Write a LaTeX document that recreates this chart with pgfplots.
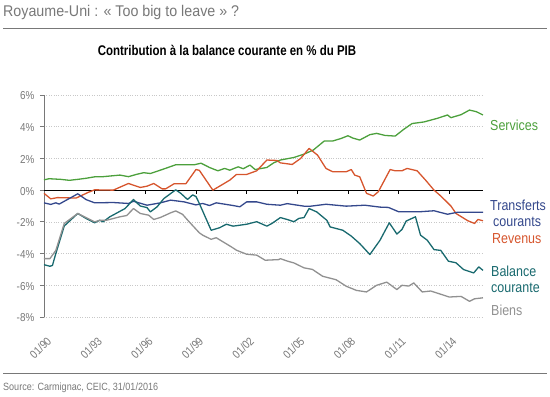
\documentclass[border=0pt]{standalone}
\usepackage{fontspec}
\setmainfont{Liberation Sans}
\newfontfamily\cond[FakeStretch=0.86]{Liberation Sans}
\newfontfamily\condt[FakeStretch=0.92]{Liberation Sans}
\newfontfamily\condb[FakeStretch=0.82]{Liberation Sans Bold}
\usepackage{pgfplots}
\pgfplotsset{compat=1.18}
\definecolor{cserv}{RGB}{76,160,60}
\definecolor{crev}{RGB}{214,85,45}
\definecolor{ctrans}{RGB}{52,72,140}
\definecolor{cbal}{RGB}{24,105,110}
\definecolor{cbien}{RGB}{145,145,145}
\definecolor{ctxt}{RGB}{120,120,120}
\definecolor{cgrid}{RGB}{200,200,200}
\begin{document}
\begin{tikzpicture}
\useasboundingbox (0bp,0bp) rectangle (550bp,-397bp);
\node[anchor=base west,inner sep=0,text=ctxt,font=\condt\fontsize{15.5bp}{17bp}\selectfont] at (3bp,-16bp) {Royaume-Uni : « Too big to leave » ?};
\draw[ctxt,line width=0.8bp] (3bp,-28bp) -- (547bp,-28bp);
\node[anchor=base,inner sep=0,font=\condb\fontsize{14bp}{16bp}\selectfont] at (227bp,-55bp) {Contribution à la balance courante en \% du PIB};
\draw[ctxt,line width=0.8bp] (3bp,-373bp) -- (547bp,-373bp);
\node[anchor=base west,inner sep=0,text=ctxt,font=\cond\fontsize{10.5bp}{12bp}\selectfont] at (3bp,-390bp) {Source: Carmignac, CEIC, 31/01/2016};
\begin{axis}[
  at={(44bp,-317bp)}, anchor=south west,
  scale only axis, width=439bp, height=222bp,
  xmin=1990, xmax=2016, ymin=-8, ymax=6,
  axis y line*=left, axis x line*=bottom,
  axis line style={-},
  x axis line style={draw=none},
  y axis line style={draw=ctxt,line width=0.8bp},
  xtick={1990,1993,1996,1999,2002,2005,2008,2011,2014},
  xticklabels={01/90,01/93,01/96,01/99,01/02,01/05,01/08,01/11,01/14},
  ytick={-8,-6,-4,-2,0,2,4,6},
  yticklabels={-8\%,-6\%,-4\%,-2\%,0\%,2\%,4\%,6\%},
  xtick style={draw=none},
  ytick style={draw=ctxt,line width=0.8bp},
  tick align=outside, major tick length=4bp,
  ymajorgrids, grid style={cgrid,dotted,line width=0.6bp},
  tick label style={text=ctxt,font=\cond\fontsize{11.5bp}{12bp}\selectfont},
  xticklabel style={rotate=45,anchor=center,inner sep=0bp,xshift=-21.6bp,yshift=-16.6bp},
  yticklabel style={inner sep=2bp,xshift=-3.5bp,yshift=-1bp},
  /pgf/number format/assume math mode=true,
  every axis plot/.append style={line width=1.3bp,line join=round},
  clip=false,
]
\draw[black,line width=0.9bp] (axis cs:1990,0) -- (axis cs:2016,0);
\pgfplotsinvokeforeach{1993,1996,1999,2002,2005,2008,2011,2014}{
  \draw[black,line width=0.8bp] (axis cs:#1,0) -- (axis cs:#1,-0.25);
}
\addplot[cserv] coordinates {
(1990.0,0.65)(1990.3,0.72)(1991.0,0.68)(1991.5,0.62)(1992.0,0.68)(1992.5,0.75)
(1993.0,0.84)(1993.5,0.85)(1994.0,0.9)(1994.5,0.95)(1995.0,0.85)(1995.5,1.0)
(1995.9,1.1)(1996.3,1.05)(1997.0,1.3)(1997.8,1.6)(1998.9,1.6)(1999.3,1.7)
(1999.8,1.43)(2000.3,1.22)(2000.7,1.37)(2001.0,1.26)(2001.5,1.47)(2001.8,1.35)
(2002.2,1.58)(2002.5,1.3)(2003.2,1.43)(2003.6,1.72)(2004.0,1.9)(2004.8,2.06)
(2005.4,2.27)(2005.95,2.53)(2006.6,3.1)(2007.1,3.1)(2007.6,3.26)(2008.0,3.43)
(2008.3,3.28)(2008.7,3.16)(2009.3,3.5)(2009.7,3.58)(2010.2,3.45)(2010.8,3.41)
(2011.3,3.83)(2011.8,4.2)(2012.5,4.3)(2013.3,4.53)(2013.9,4.74)(2014.1,4.57)
(2014.7,4.76)(2015.2,5.05)(2015.6,4.95)(2016.0,4.74)
};
\addplot[crev] coordinates {
(1990.0,-0.2)(1990.4,-0.55)(1990.8,-0.47)(1991.9,-0.5)(1992.1,-0.4)(1992.6,-0.15)
(1993.0,0.02)(1994.1,0.0)(1995.0,0.42)(1995.7,0.17)(1996.1,0.25)(1996.5,0.42)
(1997.0,0.08)(1997.2,0.08)(1997.7,0.4)(1998.4,0.4)(1999.0,1.3)(1999.2,1.25)
(2000.0,0.0)(2000.4,0.25)(2001.0,0.63)(2001.4,0.99)(2002.0,0.99)(2002.6,1.22)
(2003.2,1.9)(2003.8,1.87)(2004.0,1.72)(2004.7,1.62)(2005.2,2.0)(2005.7,2.63)
(2006.2,2.21)(2006.7,1.37)(2007.1,1.16)(2007.9,1.16)(2008.2,1.3)(2008.4,0.95)
(2008.7,0.84)(2009.1,-0.2)(2009.5,-0.37)(2009.8,-0.1)(2010.5,1.3)(2010.8,1.22)
(2011.2,1.22)(2011.5,1.37)(2012.1,1.22)(2012.6,0.63)(2013.1,0.0)(2013.5,-0.37)
(2014.1,-1.0)(2014.4,-1.47)(2015.1,-1.93)(2015.5,-2.1)(2015.7,-1.85)(2016.0,-1.93)
};
\addplot[ctrans] coordinates {
(1990.0,-0.8)(1990.4,-0.9)(1990.7,-0.8)(1990.9,-0.88)(1992.0,-0.23)(1992.5,-0.6)
(1993.0,-0.8)(1994.1,-0.78)(1995.0,-0.84)(1995.3,-0.7)(1996.1,-0.95)(1996.9,-0.8)
(1997.5,-0.63)(1998.3,-0.74)(1999.0,-0.93)(1999.4,-0.84)(1999.8,-0.97)(2000.2,-0.8)
(2001.2,-0.97)(2001.6,-1.05)(2002.0,-0.74)(2002.6,-0.74)(2003.2,-0.89)(2004.0,-0.95)
(2004.4,-0.85)(2005.4,-1.01)(2005.8,-1.01)(2006.7,-0.89)(2007.9,-1.01)(2009.0,-0.95)
(2009.9,-1.07)(2010.4,-1.09)(2011.0,-1.36)(2012.3,-1.36)(2013.1,-1.3)(2013.9,-1.52)
(2014.5,-1.39)(2016.0,-1.39)
};
\addplot[cbal] coordinates {
(1990.0,-4.7)(1990.35,-4.8)(1990.5,-4.75)(1990.7,-4.0)(1991.2,-2.26)(1992.0,-1.47)
(1992.5,-1.79)(1993.0,-2.06)(1993.3,-1.9)(1993.5,-2.0)(1993.9,-1.68)(1994.8,-1.16)
(1995.3,-0.59)(1995.7,-1.0)(1996.1,-1.1)(1996.3,-1.37)(1996.7,-1.05)(1997.1,-0.53)
(1997.8,0.02)(1998.1,-0.2)(1998.5,-0.59)(1998.8,-0.3)(1999.0,-0.4)(1999.2,-0.84)
(1999.9,-2.53)(2000.4,-2.37)(2000.8,-2.15)(2001.2,-2.27)(2002.0,-2.15)(2002.6,-1.99)
(2003.2,-2.27)(2003.5,-2.1)(2004.0,-1.73)(2004.4,-1.85)(2004.8,-1.99)(2005.1,-1.78)
(2005.4,-1.73)(2005.7,-1.16)(2006.15,-1.37)(2006.75,-1.9)(2006.95,-2.32)(2007.7,-2.53)
(2008.2,-2.9)(2008.7,-3.37)(2009.3,-4.06)(2009.9,-3.16)(2010.45,-2.06)(2010.9,-2.77)
(2011.2,-2.48)(2011.45,-1.95)(2012.0,-1.68)(2012.3,-2.84)(2012.7,-3.16)(2013.1,-3.75)
(2013.5,-3.8)(2013.95,-4.48)(2014.4,-4.58)(2014.85,-5.01)(2015.45,-5.22)(2015.75,-4.84)
(2016.0,-5.06)
};
\addplot[cbien] coordinates {
(1990.0,-4.32)(1990.35,-4.32)(1990.7,-3.8)(1991.2,-2.1)(1992.0,-1.47)(1993.0,-2.0)
(1993.3,-1.9)(1993.7,-1.9)(1994.5,-1.68)(1994.9,-1.6)(1995.3,-1.16)(1995.7,-1.47)
(1996.2,-1.58)(1996.5,-1.85)(1996.9,-1.72)(1997.5,-1.43)(1997.8,-1.31)(1998.2,-1.52)
(1998.6,-2.0)(1999.2,-2.69)(1999.4,-2.84)(1999.9,-3.1)(2000.2,-3.0)(2001.1,-3.58)
(2001.4,-3.79)(2002.0,-4.04)(2002.6,-4.1)(2003.1,-4.42)(2003.9,-4.38)(2004.0,-4.32)
(2004.4,-4.47)(2004.8,-4.59)(2005.4,-4.9)(2005.9,-5.0)(2006.5,-5.43)(2007.3,-5.65)
(2007.9,-6.06)(2008.5,-6.32)(2009.1,-6.42)(2009.7,-6.0)(2010.3,-5.8)(2010.9,-6.27)
(2011.2,-6.0)(2011.6,-6.05)(2011.9,-5.85)(2012.4,-6.42)(2012.9,-6.36)(2013.4,-6.53)
(2014.0,-6.74)(2014.7,-6.7)(2015.2,-7.01)(2015.5,-6.85)(2016.0,-6.79)
};
\end{axis}
\begin{scope}[every node/.style={anchor=base west,inner sep=0,font=\cond\fontsize{14.5bp}{16bp}\selectfont}]
\node[text=cserv] at (490bp,-130bp) {Services};
\node[text=ctrans] at (490bp,-210bp) {Transferts};
\node[text=ctrans] at (493bp,-226bp) {courants};
\node[text=crev] at (492bp,-243bp) {Revenus};
\node[text=cbal] at (491bp,-276bp) {Balance};
\node[text=cbal] at (491bp,-292bp) {courante};
\node[text=cbien] at (491bp,-315bp) {Biens};
\end{scope}
\end{tikzpicture}
\end{document}
